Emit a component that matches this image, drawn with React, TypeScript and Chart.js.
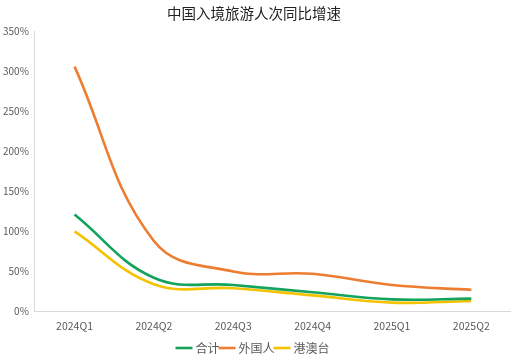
import React, { useEffect, useRef } from "react";
import { Chart, registerables } from "chart.js";

Chart.register(...registerables);

const categories = ["2024Q1", "2024Q2", "2024Q3", "2024Q4", "2025Q1", "2025Q2"];
const totalValues = [121, 42, 33, 24, 15, 16];
const foreignValues = [306, 88, 50, 47, 33, 27];
const hkMacauTwValues = [100, 34, 29, 20, 11, 13];
const yTicks = [0, 50, 100, 150, 200, 250, 300, 350];

const FONT = "'Noto Sans CJK SC', 'Noto Sans', sans-serif";

export default function App() {
  const ref = useRef<HTMLCanvasElement | null>(null);
  useEffect(() => {
    document.body.style.margin = "0";
    const ctx = ref.current!;
    const chart = new Chart(ctx, {
      type: "line",
      data: {
        labels: categories,
        datasets: [
          { label: "合计", data: totalValues, borderColor: "#14a35c", backgroundColor: "#14a35c" },
          { label: "外国人", data: foreignValues, borderColor: "#ed7d31", backgroundColor: "#ed7d31" },
          { label: "港澳台", data: hkMacauTwValues, borderColor: "#f5c200", backgroundColor: "#f5c200" },
        ].map((d) => ({ ...d, borderWidth: 2.6, pointRadius: 0, tension: 0.4, fill: false })),
      },
      options: {
        animation: false,
        responsive: false,
        maintainAspectRatio: false,
        layout: { padding: { left: -3, right: 0, top: 3, bottom: 0 } },
        plugins: {
          title: {
            display: true,
            text: "中国入境旅游人次同比增速",
            color: "#222",
            font: { family: FONT, size: 14.5, weight: "normal" },
            padding: { top: 2, bottom: 9 },
          },
          legend: {
            position: "bottom",
            labels: {
              usePointStyle: true,
              pointStyle: "line",
              boxWidth: 11,
              padding: 2,
              color: "#595959",
              font: { family: FONT, size: 12 },
            },
          },
          tooltip: { enabled: false },
        },
        scales: {
          x: {
            offset: true,
            grid: { display: false, drawTicks: false },
            border: { color: "#d9d9d9", width: 1 },
            ticks: { color: "#595959", font: { family: FONT, size: 10.5 }, padding: 8, maxRotation: 0 },
          },
          y: {
            min: 0,
            max: 350,
            afterBuildTicks: (axis: any) => {
              axis.ticks = yTicks.map((v) => ({ value: v }));
            },
            grid: { display: false, drawTicks: false },
            border: { color: "#d9d9d9", width: 1 },
            ticks: {
              color: "#595959",
              font: { family: FONT, size: 10 },
              padding: 6,
              callback: (v: any) => `${v}%`,
            },
          },
        },
      },
    });
    return () => chart.destroy();
  }, []);
  return (
    <div style={{ width: 511, height: 364 }}>
      <canvas ref={ref} width={511} height={364} style={{ width: 511, height: 364 }} />
    </div>
  );
}
